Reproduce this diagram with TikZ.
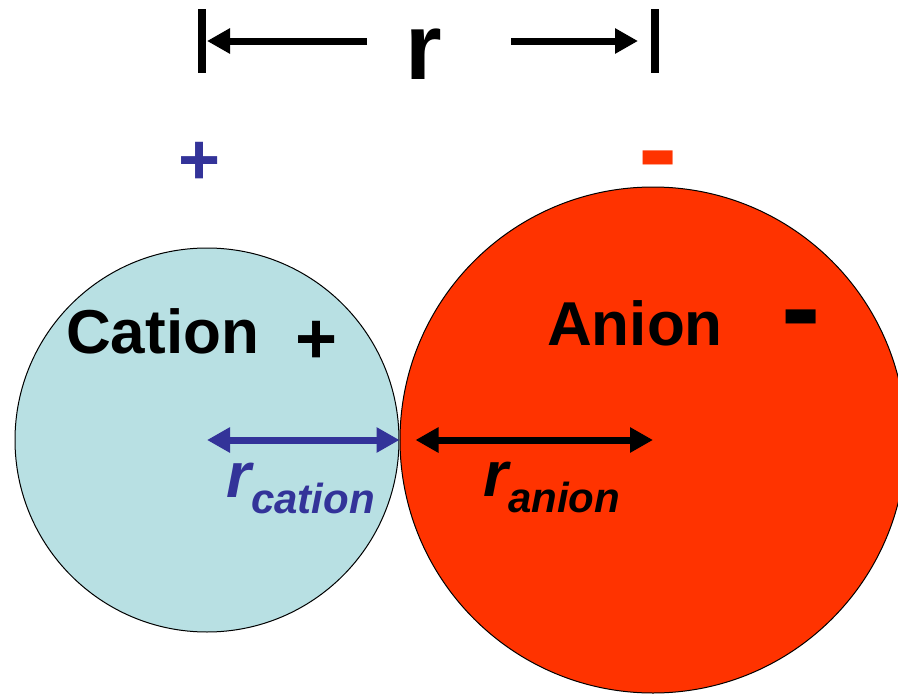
\documentclass[tikz,border=0pt]{standalone}
\usepackage{fontspec}
\setmainfont{Liberation Sans}
\usetikzlibrary{arrows.meta,positioning}
\definecolor{cationfill}{HTML}{B8E0E3}
\definecolor{cationblue}{HTML}{333399}
\definecolor{anionred}{HTML}{FF3300}
\def\CationDiam{384pt}
\def\AnionDiam{506pt}
\def\SubDrop{-16pt}
\newcommand{\bigsize}[1]{\fontsize{#1}{#1}\selectfont}

\begin{document}
\begin{tikzpicture}[
  x=1pt, y=-1pt, line cap=butt,
  >={Triangle[length=23pt,width=24pt]},
  ion/.style  ={circle, draw=black, line width=1pt, inner sep=0pt},
  word/.style ={inner sep=0pt, font=\bfseries\bigsize{62}},
  charge/.style={inner sep=0pt, anchor=base},
  radius/.style={<->, line width=7pt},
  span/.style ={->, line width=7pt}
]
\clip (0,0) rectangle (898,696);

% --- The two ions, touching --------------------------------------------
\node[ion, fill=cationfill, minimum size=\CationDiam] (cation) at (207,440) {};
\node[ion, fill=anionred, minimum size=\AnionDiam, right=0pt of cation.east, anchor=west] (anion) {};

% --- Names and charges --------------------------------------------------
\node[word, anchor=base west] (catname) at (66,353) {Cation};
\node[charge, font=\bfseries\bigsize{72}] (catplus) at (316.5,363) {+};
\node[word, anchor=base west] (anname) at (547,345) {Anion};
\node[charge, font=\bfseries\bigsize{118}] (anminus) at (801.5,347) {-};

\node[charge, text=cationblue, font=\bfseries\bigsize{72}] (topplus) at (200,184) {+};
\node[charge, text=anionred, font=\bfseries\bigsize{118}] (topminus) at (658.5,188.5) {-};

% --- Radii ---------------------------------------------------------------
\coordinate[right=16pt of anion.west] (antip);
\draw[radius, cationblue] (cation.center) -- (cation.east);
\draw[radius, black] (antip) -- (anion.center);

\node[inner sep=0pt, anchor=base west, text=cationblue, font=\bfseries\itshape] (rcat) at (226,497)
  {{\bigsize{64}r}\raisebox{\SubDrop}{\bigsize{42}cation}};
\node[inner sep=0pt, anchor=base west, font=\bfseries\itshape] (ran) at (483,496)
  {{\bigsize{64}r}\raisebox{\SubDrop}{\bigsize{42}anion}};

% --- Distance between the centres ---------------------------------------
\coordinate (leftbar) at (202,41);
\coordinate (rightbar) at (655,41);
\node[inner sep=0pt, anchor=base, font=\bfseries\bigsize{94}] (dist) at (424,79) {r};
\coordinate (leftstart) at (367,41);
\coordinate (rightstart) at (511,41);

\draw[line width=8pt] (leftbar) ++(0,-32) -- ++(0,64);
\draw[line width=8pt] (rightbar) ++(0,-32) -- ++(0,64);
\draw[span] (leftstart) -- ([xshift=5pt]leftbar);
\draw[span] (rightstart) -- ([xshift=-17pt]rightbar);

\end{tikzpicture}
\end{document}
